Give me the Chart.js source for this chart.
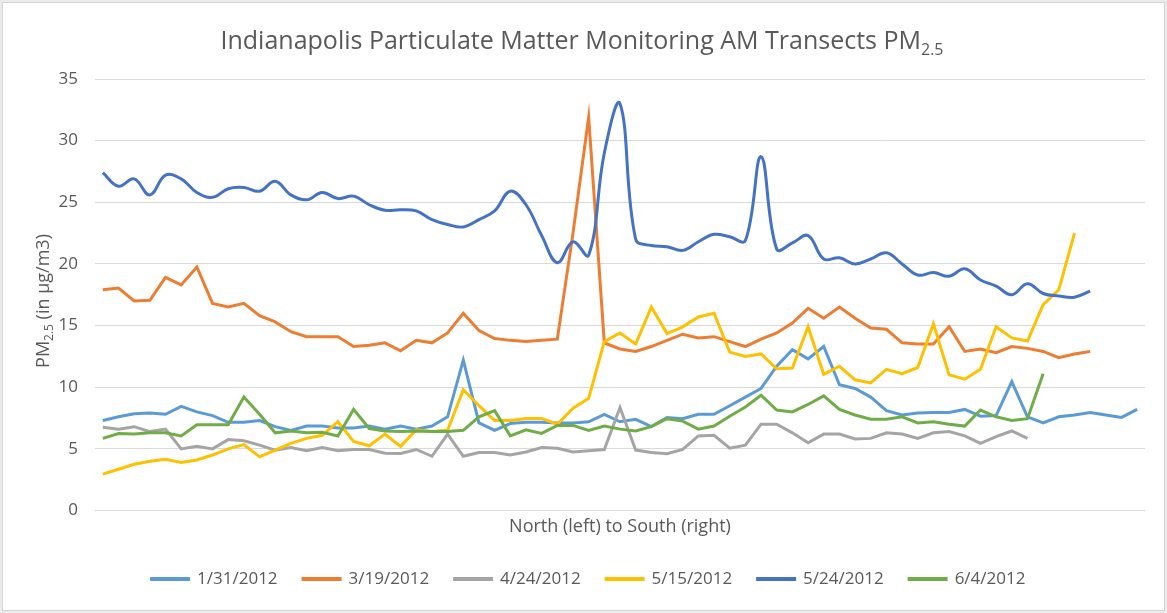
<!DOCTYPE html>
<html>
<head>
<meta charset="utf-8">
<script src="https://cdn.jsdelivr.net/npm/chart.js@4/dist/chart.umd.min.js"></script>
<style>
  html, body { margin: 0; padding: 0; background: #ebebeb; }
  #frame { position: absolute; left: 2px; top: 2px; width: 1161px; height: 607px; background: #fff; border: 1px solid #d4d4d4; }
  #pmChart { position: absolute; left: 0; top: 0; }
</style>
</head>
<body>
<div id="frame"></div>
<canvas id="pmChart" width="1167" height="613"></canvas>
<script>
// Monitoring stops along the transect, north to south (no tick labels shown)
const stopCount = 67;
const stops = Array.from({ length: stopCount }, (_, i) => i + 1);

const seriesNames = ['1/31/2012', '3/19/2012', '4/24/2012', '5/15/2012', '5/24/2012', '6/4/2012'];
const seriesColors = ['#5B9BD5', '#ED7D31', '#A5A5A5', '#FFC000', '#4472C4', '#70AD47'];

// PM2.5 readings in µg/m3
const jan31 = [
    7.3, 7.6, 7.85, 7.9, 7.8, 8.45, 8.0, 7.7, 7.15, 7.15,
    7.3, 6.8, 6.5, 6.85, 6.85, 6.7, 6.7, 6.85, 6.6, 6.85,
    6.6, 6.85, 7.6, 12.2, 7.1, 6.5, 7.05, 7.15, 7.15, 7.1,
    7.1, 7.2, 7.8, 7.2, 7.4, 6.8, 7.55, 7.45, 7.8, 7.8,
    8.5, 9.2, 9.9, 11.7, 13.05, 12.3, 13.3, 10.2, 9.9, 9.2,
    8.1, 7.75, 7.9, 7.95, 7.95, 8.2, 7.65, 7.7, 10.45, 7.6,
    7.1, 7.6, 7.75, 7.95, 7.75, 7.55, 8.2
];
const mar19 = [
    17.9, 18.05, 17.0, 17.05, 18.9, 18.3, 19.75, 16.8, 16.5, 16.8,
    15.8, 15.3, 14.5, 14.1, 14.1, 14.1, 13.3, 13.4, 13.6, 12.95,
    13.8, 13.6, 14.4, 16.0, 14.6, 13.95, 13.8, 13.7, 13.8, 13.9,
    22.5, 31.9, 13.6, 13.1, 12.9, 13.3, 13.8, 14.3, 14.0, 14.1,
    13.7, 13.3, 13.9, 14.4, 15.2, 16.4, 15.6, 16.5, 15.6, 14.8,
    14.7, 13.6, 13.5, 13.5, 14.9, 12.9, 13.1, 12.8, 13.3, 13.15,
    12.9, 12.4, 12.7, 12.9
];
const apr24 = [
    6.75, 6.6, 6.8, 6.4, 6.6, 5.0, 5.2, 5.0, 5.75, 5.65,
    5.3, 4.9, 5.1, 4.85, 5.1, 4.85, 4.95, 4.95, 4.65, 4.63,
    4.95, 4.4, 6.2, 4.4, 4.7, 4.7, 4.5, 4.75, 5.1, 5.05,
    4.75, 4.85, 4.95, 8.35, 4.9, 4.7, 4.6, 4.95, 6.05, 6.1,
    5.05, 5.3, 7.0, 7.0, 6.3, 5.5, 6.2, 6.2, 5.8, 5.85,
    6.3, 6.2, 5.85, 6.3, 6.4, 6.05, 5.45, 6.0, 6.45, 5.85
];
const may15 = [
    2.95, 3.35, 3.75, 4.0, 4.15, 3.9, 4.1, 4.5, 5.0, 5.35,
    4.35, 4.9, 5.45, 5.85, 6.1, 7.2, 5.6, 5.25, 6.2, 5.2,
    6.55, 6.4, 6.5, 9.8, 8.5, 7.3, 7.3, 7.47, 7.47, 7.0,
    8.3, 9.1, 13.7, 14.4, 13.5, 16.5, 14.35, 14.9, 15.7, 16.0,
    12.85, 12.5, 12.7, 11.5, 11.55, 14.9, 11.05, 11.7, 10.6, 10.35,
    11.45, 11.1, 11.6, 15.15, 11.0, 10.65, 11.45, 14.9, 14.0, 13.75,
    16.7, 17.9, 22.5
];
const may24 = [
    27.4, 26.3, 26.9, 25.6, 27.2, 26.9, 25.8, 25.4, 26.1, 26.2,
    25.9, 26.7, 25.6, 25.2, 25.8, 25.3, 25.5, 24.8, 24.35, 24.4,
    24.3, 23.6, 23.2, 23.0, 23.6, 24.3, 25.9, 24.8, 22.3, 20.1,
    21.8, 20.7, 29.0, 33.0, 22.0, 21.5, 21.4, 21.1, 21.8, 22.4,
    22.2, 21.9, 28.7, 21.2, 21.7, 22.3, 20.4, 20.5, 20.0, 20.4,
    20.9, 20.0, 19.1, 19.3, 19.0, 19.6, 18.7, 18.2, 17.5, 18.4,
    17.6, 17.4, 17.3, 17.8
];
const jun4 = [
    5.85, 6.25, 6.2, 6.3, 6.3, 6.05, 6.95, 6.95, 6.95, 9.2,
    7.8, 6.3, 6.45, 6.3, 6.35, 6.05, 8.2, 6.65, 6.45, 6.4,
    6.45, 6.4, 6.4, 6.5, 7.6, 8.1, 6.05, 6.55, 6.25, 6.9,
    6.9, 6.5, 6.85, 6.6, 6.45, 6.8, 7.45, 7.25, 6.6, 6.85,
    7.65, 8.4, 9.35, 8.15, 8.0, 8.6, 9.3, 8.2, 7.75, 7.4,
    7.4, 7.6, 7.1, 7.2, 7.0, 6.85, 8.15, 7.6, 7.3, 7.45,
    11.1
];

const yTicks = [0, 5, 10, 15, 20, 25, 30, 35];

const seriesValues = [jan31, mar19, apr24, may15, may24, jun4];
const smoothed = [false, false, false, false, true, false];

const textColor = '#595959';
Chart.defaults.font.family = '"Open Sans", sans-serif';

/**
 * Title and y axis title need a subscript (PM2.5), so draw them by hand
 */
const subscriptTitles = {
    id: 'subscriptTitles',
    afterLayout(chart) {
        // nudge the legend row to sit where the original has it
        chart.legend.left += 16;
        chart.legend.right += 16;
    },
    afterDraw(chart) {
        const ctx = chart.ctx;
        ctx.save();
        ctx.fillStyle = textColor;
        ctx.textBaseline = 'alphabetic';

        // chart title
        const main = 'Indianapolis Particulate Matter Monitoring AM Transects PM';
        ctx.font = '25px "Open Sans"';
        const mainW = ctx.measureText(main).width;
        ctx.font = '16px "Open Sans"';
        const subW = ctx.measureText('2.5').width;
        const x0 = 582 - (mainW + subW) / 2;
        ctx.font = '25px "Open Sans"';
        ctx.fillText(main, x0, 49);
        ctx.font = '16px "Open Sans"';
        ctx.fillText('2.5', x0 + mainW, 55);

        // y axis title, rotated
        ctx.translate(49, 301);
        ctx.rotate(-Math.PI / 2);
        ctx.font = '18px "Open Sans"';
        const pmW = ctx.measureText('PM').width;
        const restW = ctx.measureText(' (in µg/m3)').width;
        ctx.font = '12px "Open Sans"';
        const ySubW = ctx.measureText('2.5').width;
        let x = -(pmW + ySubW + restW) / 2;
        ctx.font = '18px "Open Sans"';
        ctx.fillText('PM', x, 0);
        x += pmW;
        ctx.font = '12px "Open Sans"';
        ctx.fillText('2.5', x, 4);
        x += ySubW;
        ctx.font = '18px "Open Sans"';
        ctx.fillText(' (in µg/m3)', x, 0);
        ctx.restore();
    }
};

const datasets = seriesNames.map((name, i) => ({
    label: name,
    data: seriesValues[i],
    borderColor: seriesColors[i],
    backgroundColor: seriesColors[i],
    borderWidth: 3,
    pointRadius: 0,
    fill: false,
    tension: smoothed[i] ? 0.4 : 0,
    // later series sit on top, like the original
    order: seriesNames.length - i
}));

new Chart(document.getElementById('pmChart'), {
    type: 'line',
    data: { labels: stops, datasets: datasets },
    options: {
        responsive: false,
        animation: false,
        layout: { padding: { left: 0, right: 22, top: 79, bottom: 15.5 } },
        plugins: {
            title: { display: false },
            tooltip: { enabled: false },
            legend: {
                position: 'bottom',
                labels: {
                    sort: (a, b) => seriesNames.indexOf(a.text) - seriesNames.indexOf(b.text),
                    boxWidth: 37,
                    boxHeight: 1,
                    padding: 25.5,
                    color: textColor,
                    font: { size: 17 }
                }
            }
        },
        scales: {
            x: {
                type: 'category',
                offset: true,
                grid: { display: false },
                border: { display: false },
                ticks: { display: false },
                title: {
                    display: true,
                    text: 'North (left) to South (right)',
                    color: textColor,
                    font: { size: 18 },
                    padding: { top: 0, bottom: 7.2 }
                },
                afterFit: (scale) => { scale.height = 34.5; }
            },
            y: {
                min: yTicks[0],
                max: yTicks[yTicks.length - 1],
                afterBuildTicks: (scale) => { scale.ticks = yTicks.map(v => ({ value: v })); },
                grid: { color: '#d9d9d9', drawTicks: false, lineWidth: 1 },
                border: { display: false },
                ticks: { color: textColor, font: { size: 17 }, padding: 17 },
                afterFit: (scale) => { scale.width = 95; }
            }
        }
    },
    plugins: [subscriptTitles]
});
</script>
</body>
</html>
